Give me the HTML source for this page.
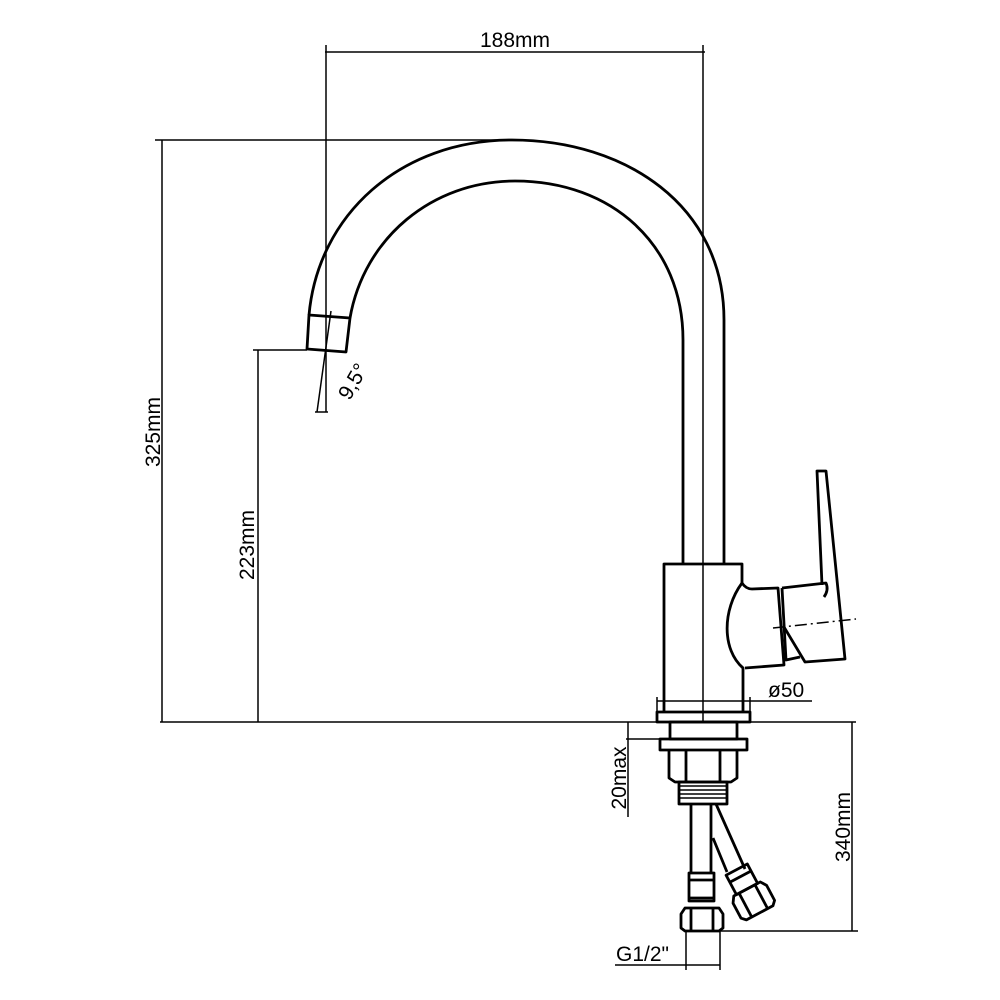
<!DOCTYPE html>
<html><head><style>body{margin:0;background:#fff}svg{display:block}text{font-family:"Liberation Sans",sans-serif;font-size:21px;fill:#000}</style></head>
<body>
<svg width="1000" height="1000" viewBox="0 0 1000 1000" xmlns="http://www.w3.org/2000/svg" fill="none" stroke="#000">
<g stroke-width="1.5">
<!-- 188 dim -->
<line x1="325" y1="52" x2="705" y2="52"/>
<line x1="326" y1="45" x2="326" y2="412"/>
<line x1="703" y1="45" x2="703" y2="722"/>
<!-- 325 dim -->
<line x1="155" y1="140" x2="512" y2="140"/>
<line x1="162" y1="140" x2="162" y2="722"/>
<!-- 223 dim -->
<line x1="253" y1="350" x2="307" y2="350"/>
<line x1="258" y1="350" x2="258" y2="722"/>
<!-- floor -->
<line x1="160" y1="722" x2="856" y2="722"/>
<!-- 9.5 -->
<line x1="331" y1="311" x2="317" y2="412"/>
<line x1="315" y1="412" x2="328" y2="412"/>
<!-- phi50 -->
<line x1="657" y1="697" x2="657" y2="712"/>
<line x1="750" y1="697" x2="750" y2="712"/>
<line x1="657" y1="701" x2="812" y2="701"/>
<!-- 20max -->
<line x1="628" y1="722" x2="628" y2="817"/>
<line x1="626" y1="739" x2="662" y2="739"/>
<!-- 340 -->
<line x1="852" y1="722" x2="852" y2="931"/>
<line x1="720" y1="931" x2="858" y2="931"/>
<!-- G1/2 -->
<line x1="686" y1="931" x2="686" y2="970"/>
<line x1="720" y1="931" x2="720" y2="970"/>
<line x1="615" y1="965" x2="720" y2="965"/>
<!-- dash-dot -->
<line x1="773" y1="628" x2="856" y2="619" stroke-dasharray="12 4 2 4"/>
</g>
<g stroke-width="2.8" stroke-linejoin="round">
<!-- spout -->
<path d="M724,564 L724,320 C724,205 625,140 512,140 C400,140 318,215 309,315"/>
<path d="M683,564 L683,340 C683,245 612,181 515,181 C432,181 364,238 350,318"/>
<path d="M309,315 L350,318 L346,352 L307,349 Z"/>
<!-- body -->
<path d="M742,583 L742,564 L664,564 L664,712"/>
<path d="M742,583 C722,610 722,650 743,668 L743,712"/>
<rect x="657" y="712" width="93" height="10"/>
<!-- cartridge + lever -->
<path d="M742,583 Q746,589 752,589 L778,588 L784,665 L745,668"/>
<path d="M782,588 L826,583 Q829,590 824,597"/>
<path d="M782,588 L786,660 L800,657"/>
<path d="M784,627 L805,662 L845,659 L826,471 L817,471 L822,585"/>
<!-- below -->
<rect x="670" y="722" width="67" height="17"/>
<rect x="660" y="739" width="87" height="11"/>
<path d="M669,750 L669,778 L675,782 L731,782 L737,778 L737,750"/>
<line x1="686" y1="750" x2="686" y2="782"/><line x1="720" y1="750" x2="720" y2="782"/>
<rect x="679" y="782" width="48" height="22"/>
<path d="M679,786 H727 M679,790 H727 M679,794 H727 M679,798 H727" stroke-width="1.5"/>
<line x1="691" y1="804" x2="691" y2="873"/><line x1="711" y1="804" x2="711" y2="873"/>
<rect x="689" y="873" width="25" height="28"/>
<line x1="689" y1="880" x2="714" y2="880"/><line x1="689" y1="898" x2="714" y2="898"/>
<path d="M685,908 L719,908 L723,914 L723,928 L719,931 L685,931 L681,928 L681,914 Z"/>
<line x1="691" y1="908" x2="691" y2="931"/><line x1="713" y1="908" x2="713" y2="931"/>
<path d="M716,804 L745,869 M713,838 L727,872"/>
<g transform="translate(754,900) rotate(-28)">
<rect x="-13" y="-35" width="24" height="22"/>
<line x1="-13" y1="-27" x2="11" y2="-27"/>
<path d="M-16,-13 L14,-13 L18,-7 L18,10 L14,14 L-16,14 L-20,10 L-20,-7 Z"/>
<line x1="-10" y1="-13" x2="-10" y2="14"/><line x1="8" y1="-13" x2="8" y2="14"/>
</g>
</g>
<g stroke="none">
<text x="515" y="47" text-anchor="middle">188mm</text>
<text transform="translate(160,432) rotate(-90)" text-anchor="middle">325mm</text>
<text transform="translate(254,545) rotate(-90)" text-anchor="middle">223mm</text>
<text transform="translate(359,385) rotate(-60)" text-anchor="middle">9,5°</text>
<text x="768" y="697">ø50</text>
<text transform="translate(626,778) rotate(-90)" text-anchor="middle">20max</text>
<text transform="translate(850,827) rotate(-90)" text-anchor="middle">340mm</text>
<text x="616" y="961">G1/2"</text>
</g>
</svg>
</body></html>
